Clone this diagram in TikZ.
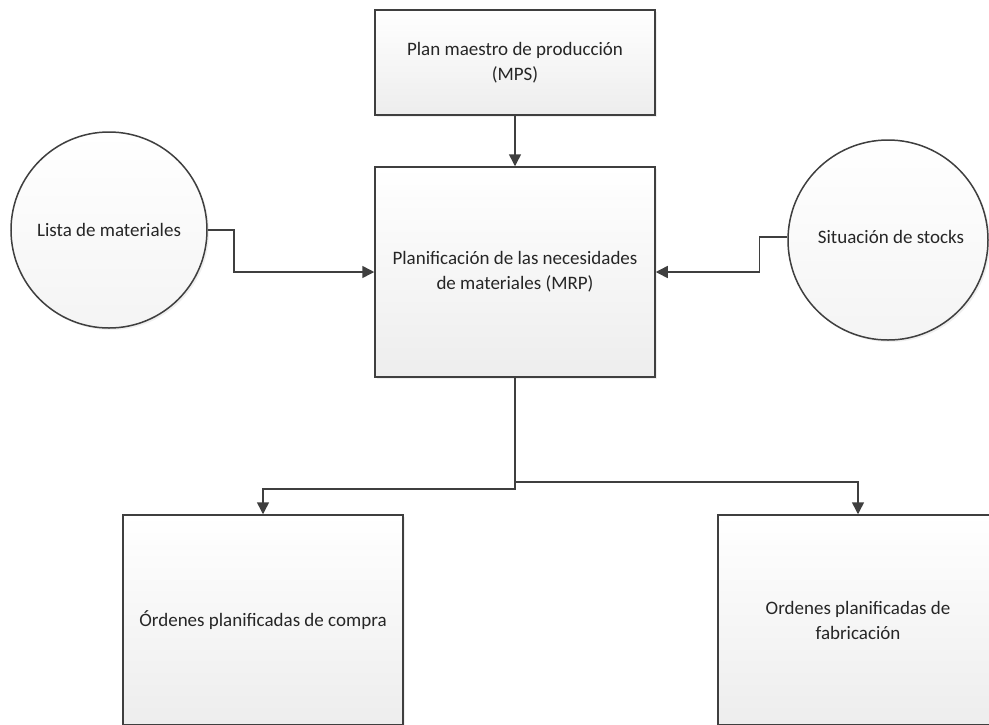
\documentclass[tikz,border=0pt]{standalone}
\usepackage{fontspec}
\setmainfont{Carlito}
\usetikzlibrary{arrows.meta,shadows,calc}
\definecolor{edge}{HTML}{3F3F3F}
\definecolor{shade}{HTML}{EDEDED}
\tikzset{
  base/.style={draw=edge, line width=1.5pt, top color=white, bottom color=shade,
    text=black!85, align=center, font=\fontsize{19}{25}\selectfont,
    drop shadow={opacity=0.12, shadow xshift=2pt, shadow yshift=-2pt}},
  box/.style={base, rectangle, minimum width=280pt, minimum height=210pt, inner sep=0pt},
  topbox/.style={base, rectangle, minimum width=280pt, minimum height=105pt, inner sep=0pt},
  bubble/.style={base, circle, inner sep=0pt, bottom color=shade!60},
  label/.style={anchor=center, align=center, font=\fontsize{19}{25}\selectfont, text=black!85},
  arr/.style={draw=edge, line width=1.5pt, -{Triangle[length=12pt,width=12pt]}},
}
\begin{document}
\begin{tikzpicture}[x=1pt,y=1pt]
\clip (0,0) rectangle (989,-724);
\fill[white] (0,0) rectangle (989,-724);

% process boxes
\node[topbox] (mps) at (515,-62.5) {Plan maestro de producción\\(MPS)};
\node[box] (mrp) at (515,-272) {Planificación de las necesidades\\de materiales (MRP)};
\node[box] (compra) at (263,-620) {Órdenes planificadas de compra};
\node[box] (fab) at (858,-620) {Ordenes planificadas de\\fabricación};

% input data stores
\node[bubble, minimum size=196pt] (lista) at (109,-230) {};
\node[label] (listatxt) at (109,-230) {Lista de materiales};
\node[bubble, minimum size=200pt] (stock) at (888,-240) {};
\node[label] (stocktxt) at (891,-237) {Situación de stocks};

% branch points below the MRP box
\coordinate (splitL) at (515,-489);
\coordinate (splitR) at (515,-482);

% connectors
\draw[arr] (mps.south) -- (mrp.north);
\draw[arr] (lista.east) -- ++(26,0) |- (mrp.west);
\draw[arr] (stock.west |- 0,-237) -- ++(-28,0) |- (mrp.east);
\draw[arr] (mrp.south) -- (splitL) -| (compra.north);
\draw[arr] (splitR) -| (fab.north);
\end{tikzpicture}
\end{document}
